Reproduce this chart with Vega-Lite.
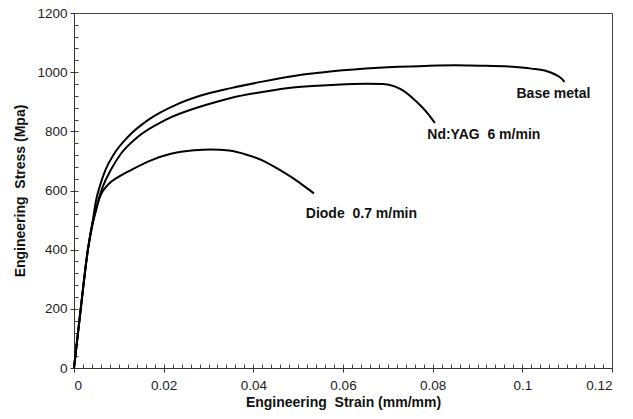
{
  "$schema": "https://vega.github.io/schema/vega-lite/v6.json",
  "width": 538,
  "height": 355,
  "autosize": {"type": "none"},
  "padding": {"left": 74, "top": 13, "right": 21, "bottom": 51},
  "background": "white",
  "config": {
    "view": {"stroke": "#444", "strokeWidth": 1},
    "font": "Liberation Sans"
  },
  "datasets": {
    "curves": [
      {"series": "Base metal", "strain": 0, "stress": 0},
      {"series": "Base metal", "strain": 0.0015, "stress": 200},
      {"series": "Base metal", "strain": 0.0031, "stress": 400},
      {"series": "Base metal", "strain": 0.0041, "stress": 490},
      {"series": "Base metal", "strain": 0.0050, "stress": 572},
      {"series": "Base metal", "strain": 0.0057, "stress": 612},
      {"series": "Base metal", "strain": 0.0070, "stress": 669},
      {"series": "Base metal", "strain": 0.0090, "stress": 725},
      {"series": "Base metal", "strain": 0.0120, "stress": 781},
      {"series": "Base metal", "strain": 0.0164, "stress": 837},
      {"series": "Base metal", "strain": 0.0231, "stress": 892},
      {"series": "Base metal", "strain": 0.0283, "stress": 921},
      {"series": "Base metal", "strain": 0.0350, "stress": 946},
      {"series": "Base metal", "strain": 0.0420, "stress": 968},
      {"series": "Base metal", "strain": 0.0494, "stress": 988},
      {"series": "Base metal", "strain": 0.0576, "stress": 1003},
      {"series": "Base metal", "strain": 0.0679, "stress": 1015},
      {"series": "Base metal", "strain": 0.0783, "stress": 1021},
      {"series": "Base metal", "strain": 0.085, "stress": 1023},
      {"series": "Base metal", "strain": 0.0909, "stress": 1022},
      {"series": "Base metal", "strain": 0.097, "stress": 1019},
      {"series": "Base metal", "strain": 0.102, "stress": 1012},
      {"series": "Base metal", "strain": 0.1055, "stress": 1003},
      {"series": "Base metal", "strain": 0.1072, "stress": 993},
      {"series": "Base metal", "strain": 0.109, "stress": 975},
      {"series": "Base metal", "strain": 0.1094, "stress": 967},
      {"series": "Nd:YAG", "strain": 0, "stress": 0},
      {"series": "Nd:YAG", "strain": 0.0015, "stress": 200},
      {"series": "Nd:YAG", "strain": 0.0031, "stress": 400},
      {"series": "Nd:YAG", "strain": 0.0041, "stress": 488},
      {"series": "Nd:YAG", "strain": 0.0047, "stress": 522},
      {"series": "Nd:YAG", "strain": 0.0055, "stress": 570},
      {"series": "Nd:YAG", "strain": 0.0064, "stress": 612},
      {"series": "Nd:YAG", "strain": 0.0082, "stress": 669},
      {"series": "Nd:YAG", "strain": 0.0105, "stress": 725},
      {"series": "Nd:YAG", "strain": 0.0142, "stress": 781},
      {"series": "Nd:YAG", "strain": 0.0202, "stress": 837},
      {"series": "Nd:YAG", "strain": 0.0305, "stress": 894},
      {"series": "Nd:YAG", "strain": 0.0350, "stress": 913},
      {"series": "Nd:YAG", "strain": 0.0420, "stress": 933},
      {"series": "Nd:YAG", "strain": 0.0494, "stress": 949},
      {"series": "Nd:YAG", "strain": 0.0576, "stress": 957},
      {"series": "Nd:YAG", "strain": 0.0650, "stress": 961},
      {"series": "Nd:YAG", "strain": 0.0690, "stress": 960},
      {"series": "Nd:YAG", "strain": 0.0715, "stress": 952},
      {"series": "Nd:YAG", "strain": 0.0735, "stress": 937},
      {"series": "Nd:YAG", "strain": 0.0755, "stress": 913},
      {"series": "Nd:YAG", "strain": 0.0775, "stress": 884},
      {"series": "Nd:YAG", "strain": 0.0792, "stress": 855},
      {"series": "Nd:YAG", "strain": 0.0805, "stress": 828},
      {"series": "Diode", "strain": 0, "stress": 0},
      {"series": "Diode", "strain": 0.0015, "stress": 200},
      {"series": "Diode", "strain": 0.0031, "stress": 400},
      {"series": "Diode", "strain": 0.0041, "stress": 482},
      {"series": "Diode", "strain": 0.0047, "stress": 522},
      {"series": "Diode", "strain": 0.0053, "stress": 556},
      {"series": "Diode", "strain": 0.0060, "stress": 586},
      {"series": "Diode", "strain": 0.0076, "stress": 620},
      {"series": "Diode", "strain": 0.0100, "stress": 647},
      {"series": "Diode", "strain": 0.0128, "stress": 670},
      {"series": "Diode", "strain": 0.0172, "stress": 702},
      {"series": "Diode", "strain": 0.0216, "stress": 724},
      {"series": "Diode", "strain": 0.0268, "stress": 736},
      {"series": "Diode", "strain": 0.0305, "stress": 739},
      {"series": "Diode", "strain": 0.0346, "stress": 735},
      {"series": "Diode", "strain": 0.0385, "stress": 721},
      {"series": "Diode", "strain": 0.0420, "stress": 702},
      {"series": "Diode", "strain": 0.0455, "stress": 673},
      {"series": "Diode", "strain": 0.0494, "stress": 636},
      {"series": "Diode", "strain": 0.0515, "stress": 613},
      {"series": "Diode", "strain": 0.0535, "stress": 590}
    ],
    "labels": [
      {"label": "Base metal", "strain": 0.0987, "stress": 925},
      {"label": "Nd:YAG\u00a0 6 m/min", "strain": 0.0788, "stress": 786},
      {"label": "Diode\u00a0 0.7 m/min", "strain": 0.0517, "stress": 520}
    ]
  },
  "layer": [
    {
      "data": {"name": "curves"},
      "mark": {"type": "line", "color": "black", "strokeWidth": 2, "interpolate": "monotone"},
      "encoding": {
        "x": {
          "field": "strain", "type": "quantitative",
          "scale": {"domain": [0, 0.12], "nice": false, "zero": false},
          "axis": {
            "orient": "bottom",
            "values": [0, 0.02, 0.04, 0.06, 0.08, 0.1, 0.12],
            "format": ".2~f",
            "grid": false,
            "domainColor": "#333", "tickColor": "#333", "tickSize": 4,
            "labelFontSize": 13.5, "labelColor": "#222", "labelPadding": 6,
            "labelFont": "Liberation Sans",
            "title": "Engineering\u00a0 Strain (mm/mm)",
            "titleFont": "Liberation Sans", "titleFontSize": 14, "titleFontWeight": "bold",
            "titleColor": "#111", "titlePadding": 4
          }
        },
        "y": {
          "field": "stress", "type": "quantitative",
          "scale": {"domain": [0, 1200], "nice": false},
          "axis": {
            "orient": "left",
            "values": [0, 200, 400, 600, 800, 1000, 1200],
            "format": "d",
            "grid": false,
            "domainColor": "#333", "tickColor": "#333", "tickSize": 4,
            "labelFontSize": 13.5, "labelColor": "#222", "labelPadding": 3,
            "labelFont": "Liberation Sans",
            "title": "Engineering\u00a0 Stress (Mpa)",
            "titleFont": "Liberation Sans", "titleFontSize": 14, "titleFontWeight": "bold",
            "titleColor": "#111", "titlePadding": 9
          }
        },
        "detail": {"field": "series", "type": "nominal"}
      }
    },
    {
      "data": {"name": "labels"},
      "mark": {"type": "text", "align": "left", "baseline": "middle", "fontSize": 14, "fontWeight": "bold", "font": "Liberation Sans", "color": "#111"},
      "encoding": {
        "x": {
          "field": "strain", "type": "quantitative",
          "axis": {
            "orient": "bottom",
            "values": [0.002, 0.004, 0.006, 0.008, 0.01, 0.012, 0.014, 0.016, 0.018, 0.02, 0.022, 0.024, 0.026, 0.028, 0.03, 0.032, 0.034, 0.036, 0.038, 0.04, 0.042, 0.044, 0.046, 0.048, 0.05, 0.052, 0.054, 0.056, 0.058, 0.06, 0.062, 0.064, 0.066, 0.068, 0.07, 0.072, 0.074, 0.076, 0.078, 0.08, 0.082, 0.084, 0.086, 0.088, 0.09, 0.092, 0.094, 0.096, 0.098, 0.1, 0.102, 0.104, 0.106, 0.108, 0.11, 0.112, 0.114, 0.116, 0.118],
            "labels": false, "domain": false, "grid": false, "title": null,
            "tickColor": "#444", "tickSize": -4
          }
        },
        "y": {
          "field": "stress", "type": "quantitative",
          "axis": {
            "orient": "left",
            "values": [40, 80, 120, 160, 200, 240, 280, 320, 360, 400, 440, 480, 520, 560, 600, 640, 680, 720, 760, 800, 840, 880, 920, 960, 1000, 1040, 1080, 1120, 1160],
            "labels": false, "domain": false, "grid": false, "title": null,
            "tickColor": "#444", "tickSize": -4
          }
        },
        "text": {"field": "label", "type": "nominal"}
      }
    }
  ],
  "resolve": {"axis": {"x": "independent", "y": "independent"}}
}
